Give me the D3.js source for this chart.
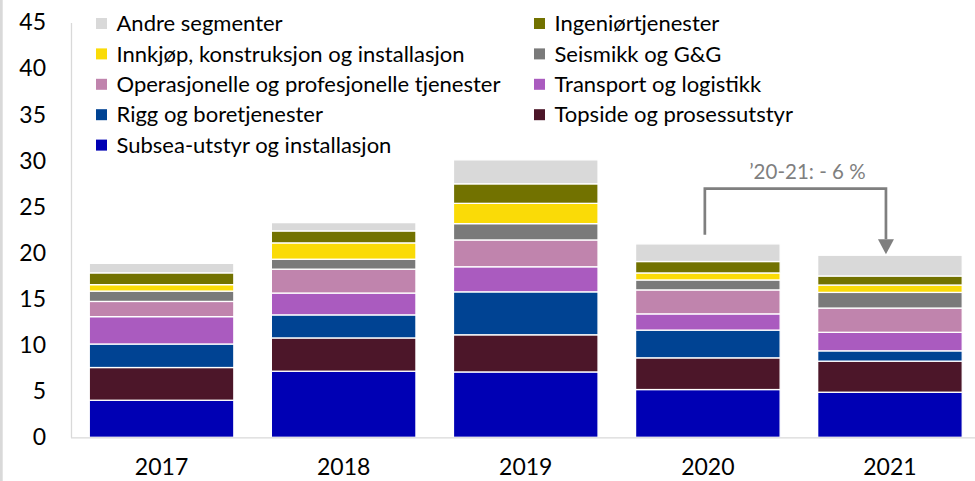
<!DOCTYPE html>
<html>
<head>
<meta charset="utf-8">
<script src="https://cdn.jsdelivr.net/npm/d3@7"></script>
<style>
  body { margin: 0; background: #fff; }
  svg { display: block; font-family: Lato, 'Open Sans', sans-serif; }
</style>
</head>
<body>
<div id="chart"></div>
<script>
// years on x axis
const years = ['2017', '2018', '2019', '2020', '2021'];

// segment values (bn), bottom to top
const subsea = [4.02, 7.17, 7.09, 5.18, 4.89];
const topside = [3.55, 3.61, 4.03, 3.44, 3.37];
const rigg = [2.55, 2.50, 4.66, 3.01, 1.12];
const transport = [2.97, 2.37, 2.72, 1.76, 2.01];
const operasjonelle = [1.65, 2.59, 2.91, 2.60, 2.63];
const seismikk = [1.12, 1.08, 1.77, 1.08, 1.70];
const innkjop = [0.70, 1.77, 2.20, 0.76, 0.80];
const ingenior = [1.28, 1.30, 2.12, 1.24, 0.98];
const andre = [1.03, 0.90, 2.60, 1.91, 2.25];

const seriesNames = [
    'Subsea-utstyr og installasjon',
    'Topside og prosessutstyr',
    'Rigg og boretjenester',
    'Transport og logistikk',
    'Operasjonelle og profesjonelle tjenester',
    'Seismikk og G&G',
    'Innkjøp, konstruksjon og installasjon',
    'Ingeniørtjenester',
    'Andre segmenter'
];
const seriesValues = [subsea, topside, rigg, transport, operasjonelle, seismikk, innkjop, ingenior, andre];
const seriesColors = ['#0000b4', '#4c1629', '#004393', '#aa5bbf', '#c084ad', '#7a7a7a', '#fadb07', '#727200', '#d9d9d9'];

const yTicks = [0, 5, 10, 15, 20, 25, 30, 35, 40, 45];

// annotation text
const changeLabel = '\u201920-21: - 6 %';

const width = 975, height = 481;

const svg = d3.select('#chart').append('svg')
    .attr('width', width)
    .attr('height', height);

// rows for d3.stack
const rows = years.map(function (yr, i) {
    var r = {year: yr};
    seriesNames.forEach(function (n, k) { r[n] = seriesValues[k][i]; });
    return r;
});
const stacked = d3.stack().keys(seriesNames)(rows);

const x = d3.scaleBand()
    .domain(years)
    .range([70.5, 981])
    .paddingInner(0.206)
    .paddingOuter(0.103);

const y = d3.scaleLinear()
    .domain([0, 45])
    .range([437.3, 22.5]);

// left frame edge
svg.append('rect')
    .attr('x', 0).attr('y', 0)
    .attr('width', 2.7).attr('height', height)
    .attr('fill', '#d9d9d9');

// bars
const layer = svg.selectAll('.layer')
    .data(stacked)
    .enter().append('g')
    .attr('class', 'layer')
    .attr('fill', function (d, i) { return seriesColors[i]; });

layer.selectAll('rect')
    .data(function (d) { return d; })
    .enter().append('rect')
    .attr('x', function (d) { return x(d.data.year); })
    .attr('y', function (d) { return y(d[1]); })
    .attr('width', x.bandwidth())
    .attr('height', function (d) { return y(d[0]) - y(d[1]); })
    .attr('stroke', '#fff')
    .attr('stroke-width', 1.3);

// y axis
const yAxis = d3.axisLeft(y)
    .tickValues(yTicks)
    .tickSize(0)
    .tickPadding(25);
const yG = svg.append('g')
    .attr('transform', 'translate(71,0)')
    .call(yAxis);
yG.select('.domain').attr('stroke', '#d9d9d9').attr('stroke-width', 1.3);
yG.selectAll('text')
    .attr('font-family', 'Lato, sans-serif')
    .attr('font-size', 23)
    .attr('fill', '#000');

// x axis
const xAxis = d3.axisBottom(x).tickSize(0).tickPadding(21);
const xG = svg.append('g')
    .attr('transform', 'translate(0,437.3)')
    .call(xAxis);
xG.select('.domain').attr('stroke', '#d9d9d9').attr('stroke-width', 1.3);
xG.selectAll('text')
    .attr('font-family', 'Lato, sans-serif')
    .attr('font-size', 23)
    .attr('fill', '#000');

// legend, two columns, series listed top to bottom
const legendItems = seriesNames.map(function (n, i) { return {name: n, color: seriesColors[i]}; }).reverse();
const legend = svg.append('g').attr('class', 'legend');
const item = legend.selectAll('g')
    .data(legendItems)
    .enter().append('g')
    .attr('transform', function (d, i) {
        var col = i % 2, row = Math.floor(i / 2);
        return 'translate(' + (col === 0 ? 96 : 534) + ',' + (23.5 + row * 30.4) + ')';
    });
item.append('rect')
    .attr('x', 0).attr('y', -5.5)
    .attr('width', 11).attr('height', 11)
    .attr('fill', function (d) { return d.color; });
item.append('text')
    .attr('x', 20.5)
    .attr('dy', '0.35em')
    .attr('font-size', 22)
    .attr('fill', '#000')
    .text(function (d) { return d.name; });

// change annotation 2020 -> 2021
const totals = years.map(function (yr, i) { return d3.sum(seriesValues, function (s) { return s[i]; }); });
const xa = x('2020') + x.bandwidth() / 2 - 3;
const xb = x('2021') + x.bandwidth() / 2 - 4;
const yTop = y(d3.max([totals[3], totals[4]]) + 6);
const note = svg.append('g').attr('class', 'note');
note.append('path')
    .attr('d', 'M' + xa + ',' + y(totals[3] + 1) + 'V' + yTop + 'H' + xb + 'V' + (y(totals[4]) - 16))
    .attr('fill', 'none')
    .attr('stroke', '#7f7f7f')
    .attr('stroke-width', 2.7);
note.append('path')
    .attr('d', 'M' + (xb - 8) + ',' + (y(totals[4]) - 16) + 'L' + (xb + 8) + ',' + (y(totals[4]) - 16) + 'L' + xb + ',' + (y(totals[4]) - 1) + 'Z')
    .attr('fill', '#7f7f7f');
note.append('text')
    .attr('x', (xa + xb) / 2 + 12)
    .attr('y', yTop - 16.5)
    .attr('dy', '0.35em')
    .attr('text-anchor', 'middle')
    .attr('font-size', 20.5)
    .attr('fill', '#7f7f7f')
    .text(changeLabel);
</script>
</body>
</html>
